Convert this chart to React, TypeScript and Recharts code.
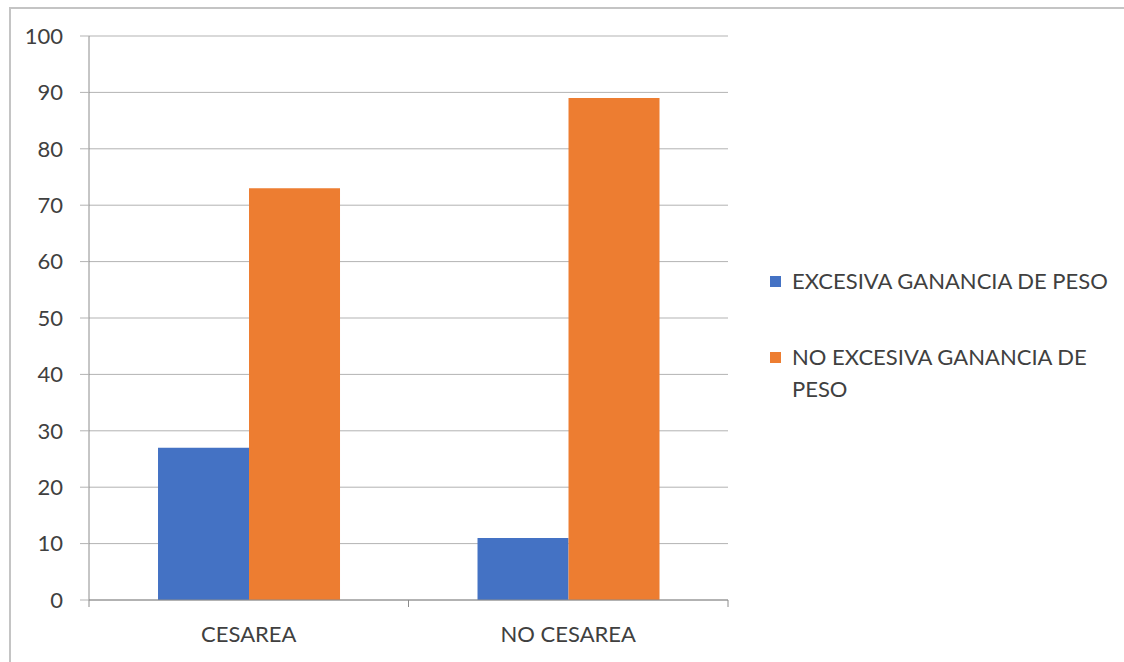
import React from "react";
import { BarChart, Bar, XAxis, YAxis, CartesianGrid, Legend } from "recharts";

const categories = ["CESAREA", "NO CESAREA"];
const excesiva = [27, 11];
const noExcesiva = [73, 89];
const yTicks = [0, 10, 20, 30, 40, 50, 60, 70, 80, 90, 100];
const seriesNames = ["EXCESIVA GANANCIA DE PESO", "NO EXCESIVA GANANCIA DE PESO"];
const seriesColors = ["#4472C4", "#ED7D31"];

const data = categories.map((c, i) => ({
  name: c,
  excesiva: excesiva[i],
  noExcesiva: noExcesiva[i],
}));

const FONT = "Lato, 'Open Sans', sans-serif";
const TEXT = "#404040";
const AXIS = "#8c8c8c";
const GRID = "#b3b3b3";
const FS = 22;

const XTick = (props: any) => {
  const { x, y, payload, index } = props;
  const half = payload.offset ?? 0;
  const left = payload.coordinate - half;
  const right = payload.coordinate + half;
  return (
    <g>
      {index === 0 && <line x1={left} x2={left} y1={y} y2={y + 7} stroke={AXIS} strokeWidth={1} />}
      <line x1={right} x2={right} y1={y} y2={y + 7} stroke={AXIS} strokeWidth={1} />
      <text x={x} y={y + 34} dy="0.35em" textAnchor="middle" fill={TEXT} fontSize={FS} fontFamily={FONT}>
        {payload.value}
      </text>
    </g>
  );
};

const LegendContent = () => (
  <div style={{ fontFamily: FONT, fontSize: FS, color: TEXT }}>
    {seriesNames.map((n, i) => (
      <div key={n} style={{ display: "flex", alignItems: "flex-start", marginBottom: i === 0 ? 44 : 0 }}>
        <div style={{ width: 11, height: 11, background: seriesColors[i], marginTop: 11, marginRight: 11, flex: "none" }} />
        <div style={{ width: 320, lineHeight: "32px" }}>{n}</div>
      </div>
    ))}
  </div>
);

export default function App() {
  return (
    <div style={{ position: "fixed", left: 0, top: 0, width: 1124, height: 662, background: "#fff", overflow: "hidden" }}>
      <div
        style={{
          position: "absolute",
          left: 9,
          top: 7,
          width: 1200,
          height: 700,
          borderLeft: "2px solid #c4c4c4",
          borderTop: "2px solid #c4c4c4",
        }}
      />
      <div style={{ position: "absolute", left: 0, top: 0 }}>
        <BarChart
          width={1124}
          height={662}
          data={data}
          margin={{ top: 36, right: 396, bottom: 0, left: 0 }}
          barCategoryGap="21.6%"
          barGap={0}
        >
          <CartesianGrid vertical={false} stroke={GRID} strokeWidth={1} />
          <XAxis
            dataKey="name"
            height={62}
            axisLine={{ stroke: AXIS }}
            tickLine={false}
            tickSize={0}
            tickMargin={0}
            tick={<XTick />}
            interval={0}
          />
          <YAxis
            width={89}
            domain={[0, 100]}
            ticks={yTicks}
            interval={0}
            axisLine={{ stroke: AXIS }}
            tickLine={{ stroke: GRID }}
            tickSize={9}
            tickMargin={17}
            tick={{ fill: TEXT, fontSize: FS, fontFamily: FONT }}
          />
          <Legend
            layout="vertical"
            align="center"
            verticalAlign="middle"
            content={<LegendContent />}
            wrapperStyle={{ left: 770, top: 265, width: 350 }}
          />
          <Bar dataKey="excesiva" name={seriesNames[0]} fill={seriesColors[0]} isAnimationActive={false} />
          <Bar dataKey="noExcesiva" name={seriesNames[1]} fill={seriesColors[1]} isAnimationActive={false} />
        </BarChart>
      </div>
    </div>
  );
}
